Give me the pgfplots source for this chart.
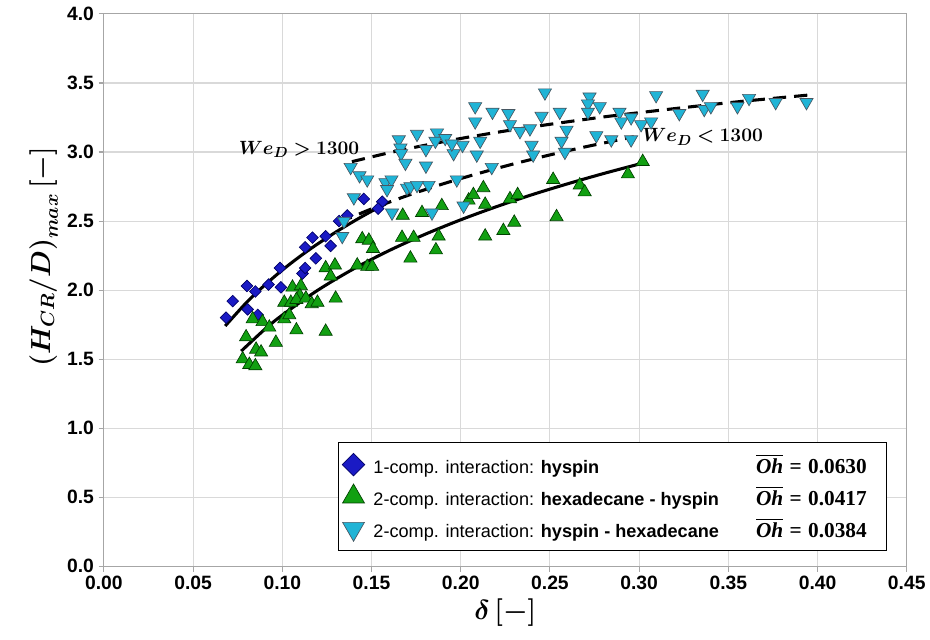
\documentclass[border=0pt]{standalone}
\usepackage{amsmath,bm}
\usepackage{fontspec}
\setmainfont{Liberation Sans}
\newfontfamily\lserif{Liberation Serif}
\usepackage{pgfplots}
\pgfplotsset{compat=1.18}
\definecolor{dblue}{HTML}{1A1AC4}
\definecolor{gfill}{HTML}{12A012}
\definecolor{cfill}{HTML}{20B4D6}
\definecolor{gridc}{HTML}{D9D9D9}
\definecolor{axc}{HTML}{A6A6A6}
\newcommand{\legtxt}[2]{\makebox[385.5pt][l]{\hspace*{5pt}#1\hfill{\fontsize{16}{18}\selectfont\lserif\bfseries$\overline{\hbox{\lserif\bfseries\itshape Oh}}$\hspace{0.3em}=\hspace{0.3em}#2}\hspace*{10pt}}}
\begin{document}
\begin{tikzpicture}
\begin{axis}[
  scale only axis, width=603pt, height=414.75pt,
  xmin=0, xmax=0.45, ymin=0, ymax=4,
  xtick={0,0.05,...,0.451}, ytick={0,0.5,...,4.01},
  clip=false,
  grid=major, major grid style={gridc, line width=0.8pt},
  axis line style={axc, line width=0.8pt},
  tick style={axc, line width=0.8pt}, tick align=outside, major tick length=4pt,
  xtick pos=bottom, ytick pos=left,
  /pgf/number format/assume math mode=true,
  x tick label style={/pgf/number format/.cd, fixed, fixed zerofill, precision=2, /tikz/.cd, font=\fontsize{14.5}{17}\selectfont\bfseries},
  y tick label style={/pgf/number format/.cd, fixed, fixed zerofill, precision=1, /tikz/.cd, font=\fontsize{14.5}{17}\selectfont\bfseries},
  xlabel={$\boldsymbol{\delta\,[-]}$},
  ylabel={$\boldsymbol{(H_{CR}/D)_{max}\,[-]}$},
  ylabel style={at={(ticklabel cs:0.56)}},
  label style={font=\fontsize{22}{26}\selectfont},
  legend cell align=left,
  legend style={at={(0.975,0.027)}, anchor=south east, draw=black, line width=0.9pt,
    font=\fontsize{13.6}{16}\selectfont, row sep=5pt, inner xsep=3pt, inner ysep=7pt,
    nodes={inner sep=1.5pt}},
]
\path (rel axis cs:-0.1294,-0.132) rectangle (rel axis cs:1.0274,1.0253);

\addplot[only marks, mark=square*, mark size=3.1pt,
  mark options={rotate=45, fill=dblue, draw=black!60!blue, line width=0.5pt},
  legend image post style={mark size=6pt}]
coordinates {(0.0685,1.80)(0.0722,1.92)(0.0802,2.03)(0.0806,1.86)(0.0849,1.99)(0.0862,1.82)(0.0923,2.04)(0.0992,2.02)(0.0987,2.16)(0.1113,2.12)(0.1128,2.16)(0.1128,2.31)(0.1188,2.23)(0.1169,2.38)(0.1243,2.39)(0.1271,2.32)(0.1318,2.50)(0.1364,2.54)(0.1457,2.66)(0.1560,2.64)(0.1537,2.59)};
\addlegendentry{\legtxt{1-comp. interaction: \textbf{hyspin}}{0.0630}}

\addplot[only marks, mark=triangle*, mark size=5.7pt,
  mark options={fill=gfill, draw=black!75!green, line width=0.5pt},
  legend image post style={mark size=9.5pt}]
coordinates {(0.1243,2.16)(0.1295,2.18)(0.1271,2.10)(0.1057,2.02)(0.1104,2.03)(0.1098,1.96)(0.1011,1.91)(0.1048,1.91)(0.1079,1.93)(0.1132,1.94)(0.1165,1.90)(0.1197,1.91)(0.1299,1.94)(0.1011,1.79)(0.1039,1.82)(0.0834,1.79)(0.0889,1.77)(0.0927,1.73)(0.1079,1.71)(0.1243,1.70)(0.0797,1.66)(0.0964,1.62)(0.0853,1.57)(0.0881,1.55)(0.0778,1.50)(0.0815,1.46)(0.0849,1.45)(0.1448,2.37)(0.1485,2.36)(0.1508,2.30)(0.1671,2.38)(0.1736,2.38)(0.1876,2.39)(0.1861,2.29)(0.1718,2.23)(0.1675,2.54)(0.1783,2.56)(0.1894,2.61)(0.1420,2.18)(0.1476,2.17)(0.1504,2.17)(0.2044,2.65)(0.2071,2.69)(0.2127,2.74)(0.2137,2.62)(0.2276,2.66)(0.2319,2.69)(0.2518,2.80)(0.2667,2.76)(0.2695,2.71)(0.2537,2.53)(0.2300,2.49)(0.2239,2.43)(0.2137,2.39)(0.3020,2.93)(0.2937,2.84)};
\addlegendentry{\legtxt{2-comp. interaction: \textbf{hexadecane - hyspin}}{0.0417}}

\addplot[only marks, mark=triangle*, mark size=5.7pt,
  mark options={rotate=180, fill=cfill, draw=black!70!cyan, line width=0.5pt},
  legend image post style={mark size=9.5pt}]
coordinates {(0.1383,2.89)(0.1433,2.83)(0.1476,2.80)(0.1578,2.78)(0.1612,2.80)(0.1587,2.73)(0.1653,3.09)(0.1662,3.03)(0.1666,2.99)(0.1690,2.92)(0.1755,3.13)(0.1805,3.02)(0.1805,2.90)(0.1867,3.14)(0.1858,3.08)(0.1913,3.10)(0.1960,2.99)(0.2010,3.05)(0.1950,3.06)(0.2081,3.33)(0.2081,3.22)(0.2090,2.98)(0.2109,3.08)(0.2178,3.29)(0.2174,2.89)(0.1978,2.80)(0.1820,2.76)(0.1699,2.74)(0.1718,2.75)(0.1755,2.76)(0.1401,2.67)(0.1615,2.56)(0.1839,2.56)(0.1346,2.50)(0.1336,2.39)(0.2016,2.61)(0.2267,3.28)(0.2276,3.20)(0.2332,3.15)(0.2388,3.17)(0.2453,3.26)(0.2472,3.43)(0.2555,3.29)(0.2593,3.16)(0.2397,3.05)(0.2406,2.98)(0.2565,3.08)(0.2584,3.00)(0.2722,3.40)(0.2713,3.35)(0.2779,3.33)(0.2713,3.29)(0.2760,3.12)(0.2890,3.29)(0.2900,3.22)(0.2955,3.25)(0.3011,3.20)(0.3067,3.22)(0.3095,3.41)(0.2844,3.09)(0.2955,3.09)(0.3225,3.28)(0.3356,3.42)(0.3365,3.31)(0.3402,3.33)(0.3551,3.33)(0.3616,3.39)(0.3765,3.36)(0.3938,3.36)};
\addlegendentry{\legtxt{2-comp. interaction: \textbf{hyspin - hexadecane}}{0.0384}}

% fitted trend lines
\addplot[black, line width=2.3pt, smooth, forget plot] coordinates {(0.068,1.740)(0.08,1.911)(0.09,2.034)(0.10,2.145)(0.11,2.245)(0.12,2.336)(0.13,2.420)(0.14,2.498)(0.15,2.571)(0.158,2.625)};
\addplot[black, line width=2.3pt, smooth, forget plot] coordinates {(0.077,1.558)(0.09,1.714)(0.10,1.819)(0.12,2.000)(0.14,2.154)(0.16,2.287)(0.18,2.404)(0.20,2.509)(0.22,2.604)(0.24,2.691)(0.26,2.770)(0.28,2.844)(0.303,2.923)};
\addplot[black, line width=2.3pt, smooth, dash pattern=on 10pt off 6pt, forget plot] coordinates {(0.139,2.930)(0.16,2.995)(0.18,3.049)(0.20,3.098)(0.22,3.142)(0.24,3.182)(0.26,3.219)(0.28,3.254)(0.30,3.285)(0.33,3.329)(0.36,3.370)(0.397,3.415)};
\addplot[black, line width=2.3pt, smooth, dash pattern=on 10pt off 6pt, forget plot] coordinates {(0.132,2.490)(0.15,2.588)(0.17,2.684)(0.19,2.769)(0.21,2.845)(0.23,2.915)(0.25,2.979)(0.27,3.038)(0.297,3.110)};

\node[font=\fontsize{15.5}{18}\selectfont] at (axis cs:0.1094,3.02) {$\boldsymbol{We_D > 1300}$};
\node[font=\fontsize{15.5}{18}\selectfont] at (axis cs:0.3356,3.11) {$\boldsymbol{We_D < 1300}$};
\end{axis}
\end{tikzpicture}
\end{document}
